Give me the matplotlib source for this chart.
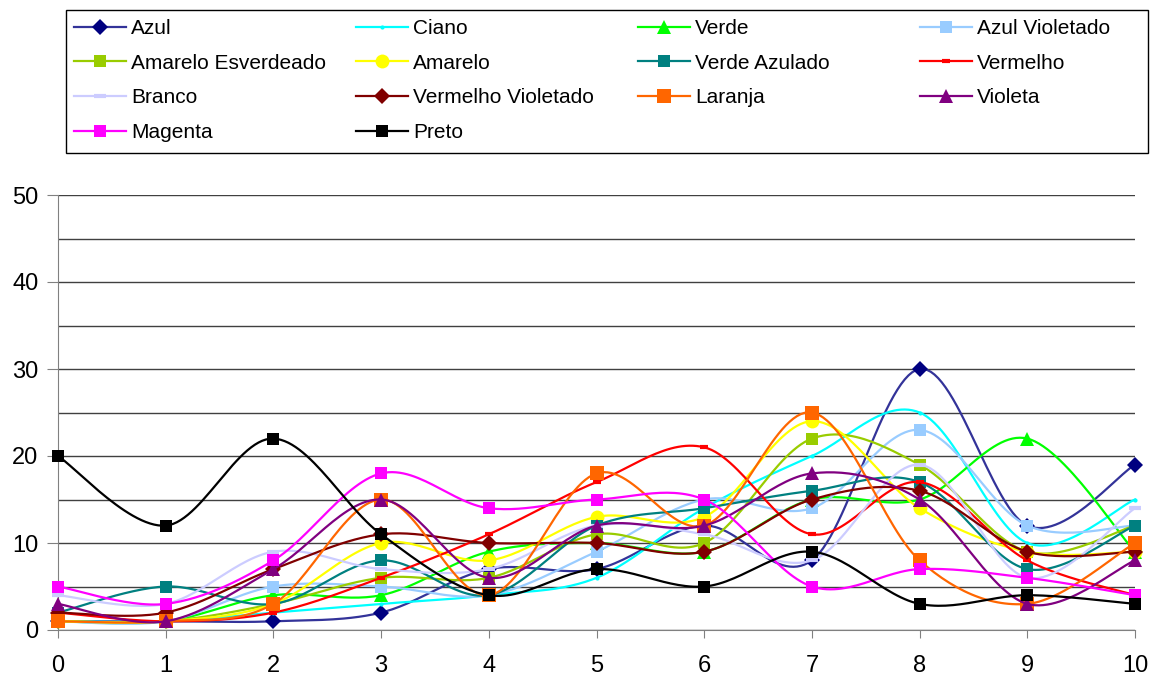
import matplotlib.pyplot as plt
from matplotlib.patches import Rectangle
import numpy as np

plt.rcParams['font.family'] = ['Liberation Sans', 'DejaVu Sans']

# x positions 0..10
x = np.arange(11)
x_labels = [str(i) for i in x]

# series values
azul = [1, 1, 1, 2, 7, 7, 12, 8, 30, 12, 19]
ciano = [1, 1, 2, 3, 4, 6, 14, 20, 25, 10, 15]
verde = [1, 1, 4, 4, 9, 10, 9, 15, 15, 22, 9]
azul_violetado = [1, 1, 5, 5, 4, 9, 15, 14, 23, 12, 12]
amarelo_esverdeado = [1, 1, 3, 6, 6, 11, 10, 22, 19, 9, 12]
amarelo = [1, 1, 3, 10, 8, 13, 13, 24, 14, 9, 9]
verde_azulado = [2, 5, 3, 8, 4, 12, 14, 16, 17, 7, 12]
vermelho = [2, 1, 2, 6, 11, 17, 21, 11, 17, 8, 4]
branco = [4, 3, 9, 7, 7, 12, 11, 8, 19, 6, 14]
vermelho_violetado = [2, 2, 7, 11, 10, 10, 9, 15, 16, 9, 9]
laranja = [1, 1, 3, 15, 4, 18, 12, 25, 8, 3, 10]
violeta = [3, 1, 7, 15, 6, 12, 12, 18, 15, 3, 8]
magenta = [5, 3, 8, 18, 14, 15, 15, 5, 7, 6, 4]
preto = [20, 12, 22, 11, 4, 7, 5, 9, 3, 4, 3]

names = ['Azul', 'Ciano', 'Verde', 'Azul Violetado', 'Amarelo Esverdeado',
         'Amarelo', 'Verde Azulado', 'Vermelho', 'Branco', 'Vermelho Violetado',
         'Laranja', 'Violeta', 'Magenta', 'Preto']
series = [azul, ciano, verde, azul_violetado, amarelo_esverdeado, amarelo,
          verde_azulado, vermelho, branco, vermelho_violetado, laranja,
          violeta, magenta, preto]

# (line colour, marker colour, marker, marker size)
styles = [
    ('#333399', '#000080', 'D', 8.5),
    ('#00FFFF', '#00FFFF', 'o', 3),
    ('#00FF00', '#00FF00', '^', 10),
    ('#99CCFF', '#99CCFF', 's', 9),
    ('#99CC00', '#99CC00', 's', 9),
    ('#FFFF00', '#FFFF00', 'o', 10),
    ('#008080', '#008080', 's', 9),
    ('#FF0000', '#FF0000', '_', 6),
    ('#CCCCFF', '#CCCCFF', '_', 8),
    ('#800000', '#800000', 'D', 8.5),
    ('#FF6600', '#FF6600', 's', 10),
    ('#800080', '#800080', '^', 10),
    ('#FF00FF', '#FF00FF', 's', 9),
    ('#000000', '#000000', 's', 9),
]


def smooth(xs, ys, n=30):
    # Excel-like smoothed line (Catmull-Rom as cubic Bezier)
    p = np.column_stack([xs, ys]).astype(float)
    p = np.vstack([p[0], p, p[-1]])
    t = np.linspace(0, 1, n)[:, None]
    out = []
    for i in range(1, len(p) - 2):
        p0, p1, p2, p3 = p[i - 1], p[i], p[i + 1], p[i + 2]
        c1 = p1 + (p2 - p0) / 6
        c2 = p2 - (p3 - p1) / 6
        seg = ((1 - t) ** 3) * p1 + 3 * ((1 - t) ** 2) * t * c1 \
            + 3 * (1 - t) * t ** 2 * c2 + t ** 3 * p2
        out.append(seg)
    out = np.vstack(out)
    return out[:, 0], out[:, 1]


fig = plt.figure(figsize=(11.58, 6.77), dpi=100)
ax = fig.add_axes([58 / 1158, 1 - 630 / 677, 1077 / 1158, 435 / 677])

handles = []
for i, (name, vals) in enumerate(zip(names, series)):
    lc, mc, mk, ms = styles[i]
    sx, sy = smooth(x, vals)
    ax.plot(sx, sy, color=lc, lw=1.6, zorder=3 + i, clip_on=False)
    mew = 3 if mk == '_' else 0
    ax.plot(x, vals, ls='none', marker=mk, ms=ms, color=mc, mec=mc,
            mew=mew, zorder=3 + i, clip_on=False)
    h, = plt.plot([], [], color=lc, lw=1.6, marker=mk, ms=ms, mfc=mc,
                  mec=mc, mew=mew)
    handles.append(h)

ax.set_xlim(0, 10)
ax.set_ylim(0, 50)
ax.set_xticks(x)
ax.set_xticklabels(x_labels)
ax.set_yticks(np.arange(0, 51, 10))
ax.set_yticks(np.arange(5, 50, 10), minor=True)
ax.grid(True, which='both', axis='y', color='#404040', lw=1)
ax.set_axisbelow(True)
for s in ['top', 'right']:
    ax.spines[s].set_visible(False)
ax.spines['left'].set_color('#808080')
ax.spines['bottom'].set_color('#808080')
ax.tick_params(axis='y', which='major', direction='out', length=8,
               color='#808080', labelsize=17, pad=6)
ax.tick_params(axis='y', which='minor', length=0)
ax.tick_params(axis='x', direction='out', length=6, color='#808080',
               labelsize=17, pad=12)

# legend: one frameless legend per column inside a common box
fig.add_artist(Rectangle((66 / 1158, 1 - 153 / 677), 1082 / 1158, 143 / 677,
                         transform=fig.transFigure, fill=False,
                         ec='black', lw=1))
col_x = [74, 356, 638, 920]
for c in range(4):
    idx = list(range(c, len(names), 4))
    fig.legend([handles[i] for i in idx], [names[i] for i in idx],
               loc='upper left', bbox_to_anchor=(col_x[c] / 1158, 1 - 19 / 677),
               borderaxespad=0, borderpad=0, fontsize=15, handlelength=2.5,
               handletextpad=0.25, labelspacing=0.75, frameon=False)

fig.savefig('out.png', dpi=100)
